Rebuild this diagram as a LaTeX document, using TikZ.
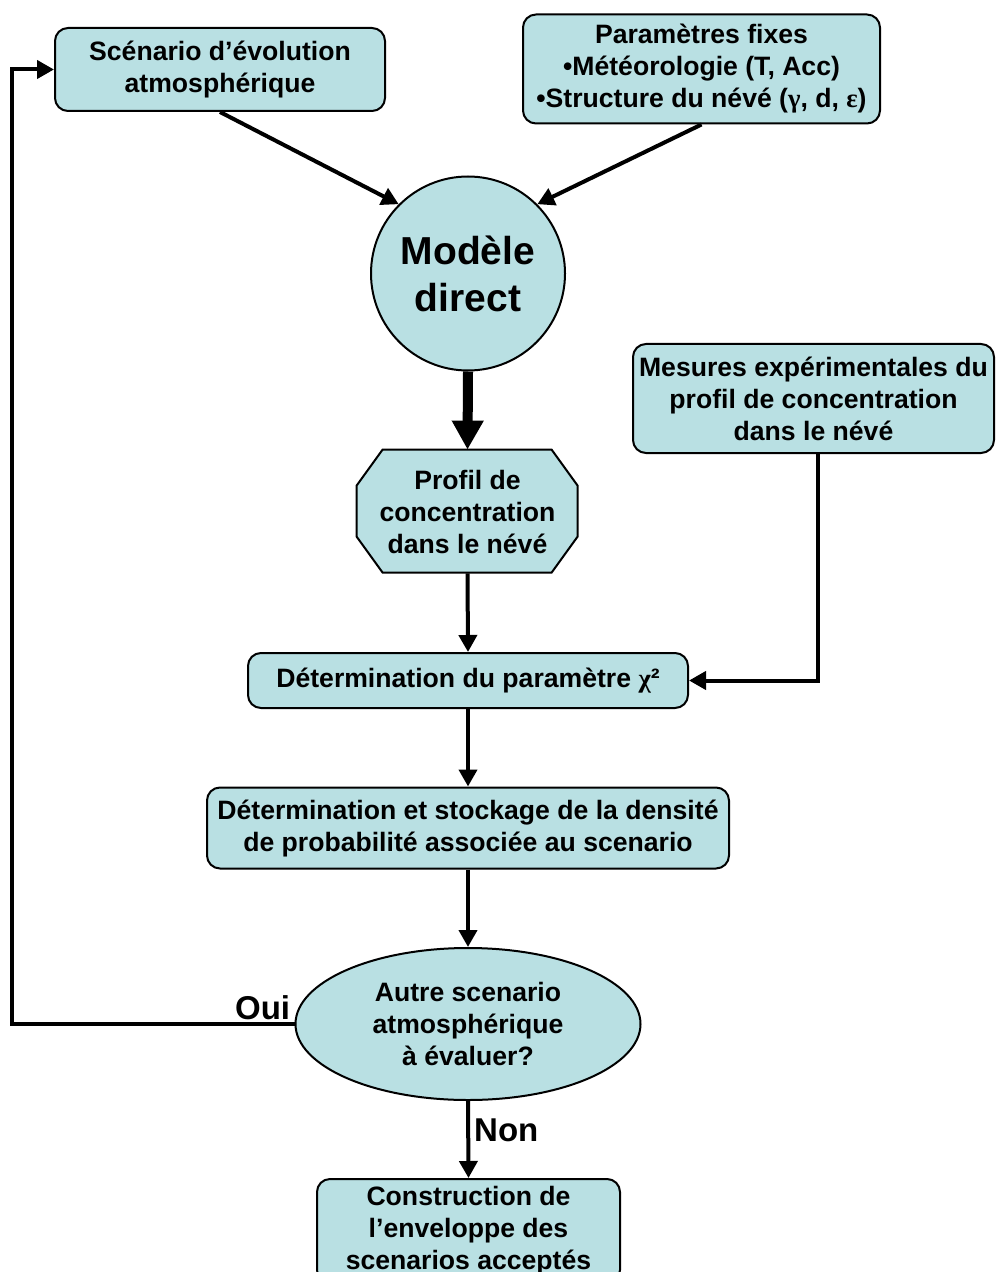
\documentclass[tikz,border=0pt]{standalone}
\usepackage{fontspec}
\setmainfont{Liberation Sans}
\newfontfamily\grecfont{Liberation Serif}
\usetikzlibrary{arrows.meta,shapes.geometric,backgrounds}

\newlength{\du}
\setlength{\du}{0.5pt}
\definecolor{fondbleu}{RGB}{185,224,227}

\tikzset{
  texte/.style={align=center, inner sep=0pt, font=\fontsize{13.3}{16}\selectfont\bfseries},
  boite/.style={texte, draw, fill=fondbleu, line width=2\du, rounded corners=13\du},
  fleche/.style={line width=4\du, -{Triangle[length=8.5pt,width=9pt]}},
  grossefleche/.style={line width=10\du, -{Triangle[length=14.5pt,width=15pt]}},
  etiquette/.style={inner sep=4\du, font=\fontsize{16.5}{18}\selectfont\bfseries},
}

\begin{document}
\begin{tikzpicture}
\pgftransformyscale{-1.000000}
\useasboundingbox (0\du,0\du) rectangle (995\du,1272\du);
\clip (0\du,0\du) rectangle (995\du,1272\du);
% entrees du modele
\node[boite, minimum width=330\du, minimum height=83\du] (scenario) at (220\du,69.5\du)
  {Scénario d’évolution\\atmosphérique};
\node[boite, minimum width=357\du, minimum height=109\du] (parametres) at (701.5\du,69\du)
  {Paramètres fixes\\•Météorologie (T, Acc)\\•Structure du névé ({\grecfont γ}, d, {\grecfont ε})};
\node[circle, draw, fill=fondbleu, line width=2\du, inner sep=0pt, minimum size=194\du,
  align=center, font=\fontsize{19.5}{23.5}\selectfont\bfseries] (modele) at (468\du,273.5\du)
  {Modèle\\direct};
% profils
\node[texte, minimum width=221\du, minimum height=123\du] (profil) at (467.5\du,511.5\du)
  {Profil de\\concentration\\dans le névé};
\begin{scope}[on background layer]
\draw[fill=fondbleu, line width=2\du] (profil.north west) ++(26\du,0) -- ++(169\du,0)
  -- ++(26\du,36\du) -- ++(0,51\du) -- ++(-26\du,36\du) -- ++(-169\du,0)
  -- ++(-26\du,-36\du) -- ++(0,-51\du) -- cycle;
\end{scope}
\node[boite, minimum width=361\du, minimum height=109\du] (mesures) at (813.5\du,398.5\du)
  {Mesures expérimentales du\\profil de concentration\\dans le névé};
\node[boite, minimum width=440\du, minimum height=55\du] (chideux) at (468\du,680.5\du)
  {Détermination du paramètre {\grecfont χ}²};
\node[boite, minimum width=522\du, minimum height=81\du] (densite) at (468\du,828\du)
  {Détermination et stockage de la densité\\de probabilité associée au scenario};
% test et sortie
\node[ellipse, draw, fill=fondbleu, line width=2\du, inner sep=0pt, minimum width=345\du,
  minimum height=152\du, align=center, font=\fontsize{13.3}{16}\selectfont\bfseries] (question)
  at (468\du,1024\du) {Autre scenario\\atmosphérique\\à évaluer?};
\node[boite, minimum width=303\du, minimum height=104\du] (enveloppe) at (468.5\du,1231\du)
  {Construction de\\l’enveloppe des\\scenarios acceptés};
\coordinate (retour) at (12\du,1024\du);

\draw[fleche] (scenario.south) -- (modele.135);
\draw[fleche] (parametres.south) -- (modele.45);
\draw[grossefleche] (modele.south) -- (profil.north);
\draw[fleche] (profil.south) -- (chideux.north);
\draw[fleche] ([xshift=4\du]mesures.south) |- (chideux.east);
\draw[fleche] (chideux.south) -- (densite.north);
\draw[fleche] (densite.south) -- (question.north);
\draw[fleche] (question.west) -- (retour) |- (scenario.west);
\node[etiquette, anchor=south east] (oui) at (question.west) {Oui};
\draw[fleche] (question.south) -- node[etiquette, right, pos=0.38] (non) {Non} (enveloppe.north);
\end{tikzpicture}
\end{document}
